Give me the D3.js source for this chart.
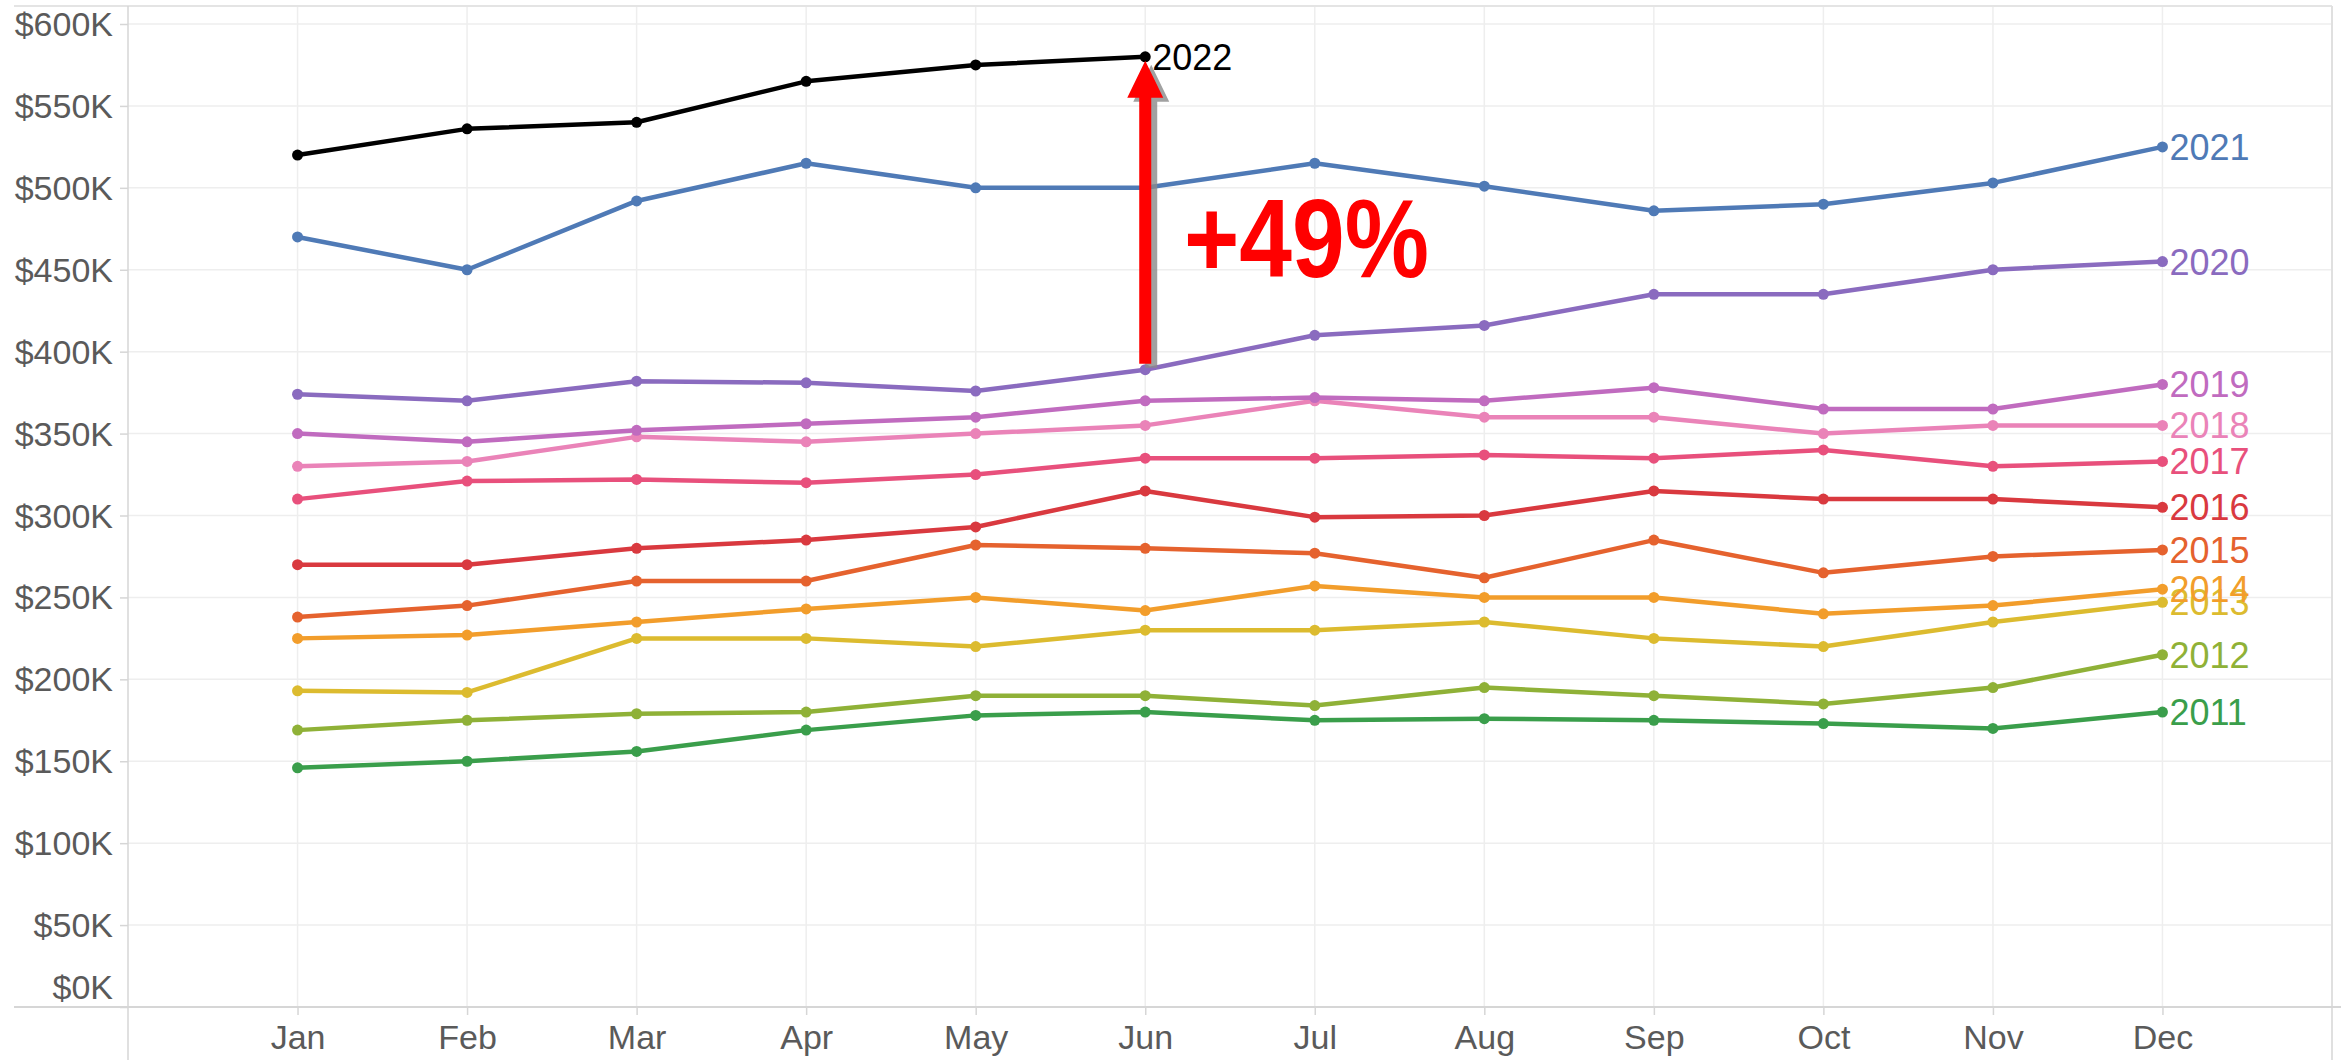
<!DOCTYPE html>
<html>
<head>
<meta charset="utf-8">
<script src="https://cdn.jsdelivr.net/npm/d3@7"></script>
<style>
  html, body { margin: 0; padding: 0; background: #fff; }
  svg { display: block; font-family: "Liberation Sans", Arial, sans-serif; }
</style>
</head>
<body>
<svg id="chart" width="2341" height="1060"></svg>
<script>
// Median price by month, one line per year (values in $)
const months = ["Jan", "Feb", "Mar", "Apr", "May", "Jun", "Jul", "Aug", "Sep", "Oct", "Nov", "Dec"];
const years = ["2011", "2012", "2013", "2014", "2015", "2016", "2017", "2018", "2019", "2020", "2021", "2022"];
const yTicks = [0, 50000, 100000, 150000, 200000, 250000, 300000, 350000, 400000, 450000, 500000, 550000, 600000];

const v2011 = [146000, 150000, 156000, 169000, 178000, 180000, 175000, 176000, 175000, 173000, 170000, 180000];
const v2012 = [169000, 175000, 179000, 180000, 190000, 190000, 184000, 195000, 190000, 185000, 195000, 215000];
const v2013 = [193000, 192000, 225000, 225000, 220000, 230000, 230000, 235000, 225000, 220000, 235000, 247000];
const v2014 = [225000, 227000, 235000, 243000, 250000, 242000, 257000, 250000, 250000, 240000, 245000, 255000];
const v2015 = [238000, 245000, 260000, 260000, 282000, 280000, 277000, 262000, 285000, 265000, 275000, 279000];
const v2016 = [270000, 270000, 280000, 285000, 293000, 315000, 299000, 300000, 315000, 310000, 310000, 305000];
const v2017 = [310000, 321000, 322000, 320000, 325000, 335000, 335000, 337000, 335000, 340000, 330000, 333000];
const v2018 = [330000, 333000, 348000, 345000, 350000, 355000, 370000, 360000, 360000, 350000, 355000, 355000];
const v2019 = [350000, 345000, 352000, 356000, 360000, 370000, 372000, 370000, 378000, 365000, 365000, 380000];
const v2020 = [374000, 370000, 382000, 381000, 376000, 389000, 410000, 416000, 435000, 435000, 450000, 455000];
const v2021 = [470000, 450000, 492000, 515000, 500000, 500000, 515000, 501000, 486000, 490000, 503000, 525000];
const v2022 = [520000, 536000, 540000, 565000, 575000, 580000];

const seriesValues = [v2011, v2012, v2013, v2014, v2015, v2016, v2017, v2018, v2019, v2020, v2021, v2022];
const seriesColors = ["#3a9e4b", "#8fb137", "#dcbb2f", "#f29d2b", "#e5622e", "#d9393f",
                      "#e8507c", "#ea83b8", "#c06bbf", "#8a6bbf", "#4f7ab6", "#000000"];

const annotationText = "+49%";

const W = 2341, H = 1060;
const plot = { left: 128, right: 2332, top: 6, bottom: 1007 };

const svg = d3.select("#chart");
const x = d3.scalePoint(months, [plot.left, plot.right]).padding(1);
const y = d3.scaleLinear([0, 600000], [plot.bottom, 24]);

const gridColor = "#eeeeee";
const frameColor = "#d6d6d6";
const labelColor = "#5a5a5a";

// Horizontal gridlines
svg.append("g").selectAll("line").data(yTicks.slice(1)).join("line")
  .attr("x1", plot.left).attr("x2", plot.right)
  .attr("y1", d => y(d)).attr("y2", d => y(d))
  .attr("stroke", gridColor).attr("stroke-width", 1.5);

// Vertical gridlines
svg.append("g").selectAll("line").data(months).join("line")
  .attr("x1", d => x(d)).attr("x2", d => x(d))
  .attr("y1", plot.top).attr("y2", plot.bottom)
  .attr("stroke", gridColor).attr("stroke-width", 1.5);

// Frame
svg.append("line").attr("x1", 14).attr("x2", plot.right).attr("y1", plot.top).attr("y2", plot.top)
  .attr("stroke", "#e4e4e4").attr("stroke-width", 2);
svg.append("line").attr("x1", plot.left).attr("x2", plot.left).attr("y1", plot.top).attr("y2", H)
  .attr("stroke", frameColor).attr("stroke-width", 1.5);
svg.append("line").attr("x1", plot.right).attr("x2", plot.right).attr("y1", plot.top).attr("y2", H)
  .attr("stroke", "#e0e0e0").attr("stroke-width", 2);
svg.append("line").attr("x1", 14).attr("x2", W).attr("y1", plot.bottom).attr("y2", plot.bottom)
  .attr("stroke", frameColor).attr("stroke-width", 2);

// Y axis
const yAxis = svg.append("g").attr("transform", `translate(${plot.left},0)`)
  .call(d3.axisLeft(y).tickValues(yTicks).tickSize(8).tickPadding(7)
    .tickFormat(d => `$${d / 1000}K`));
yAxis.select(".domain").remove();
yAxis.selectAll(".tick line").attr("stroke", frameColor).attr("stroke-width", 1.5);
yAxis.selectAll(".tick text")
  .attr("font-size", 34).attr("fill", labelColor)
  .attr("font-family", "Liberation Sans, Arial, sans-serif")
  .attr("dy", d => d === 0 ? "-0.25em" : "0.34em");

// X axis
const xAxis = svg.append("g").attr("transform", `translate(0,${plot.bottom})`)
  .call(d3.axisBottom(x).tickSize(8).tickPadding(10));
xAxis.select(".domain").remove();
xAxis.selectAll(".tick line").attr("stroke", frameColor).attr("stroke-width", 1.5);
xAxis.selectAll(".tick text")
  .attr("font-size", 34).attr("fill", labelColor)
  .attr("font-family", "Liberation Sans, Arial, sans-serif")
  .attr("dy", "0.7em");

// Lines, dots and end labels
const line = d3.line().x((d, i) => x(months[i])).y(d => y(d));
const series = svg.append("g");
seriesValues.forEach((vals, k) => {
  const c = seriesColors[k];
  series.append("path").datum(vals)
    .attr("d", line).attr("fill", "none")
    .attr("stroke", c).attr("stroke-width", 4.5).attr("stroke-linejoin", "round");
  series.append("g").selectAll("circle").data(vals).join("circle")
    .attr("cx", (d, i) => x(months[i])).attr("cy", d => y(d))
    .attr("r", 5.5).attr("fill", c);
  const last = vals.length - 1;
  series.append("text")
    .attr("x", x(months[last]) + 7).attr("y", y(vals[last]))
    .attr("dy", "0.36em").attr("font-size", 36).attr("fill", c)
    .text(years[k]);
});

// Arrow: 2020 -> 2022 in June
const jun = months.indexOf("Jun");
const ax = x("Jun");
const yFrom = y(v2020[jun]) - 6;
const yTo = y(v2022[jun]) + 4;
const shaft = 6, headHalf = 18, headLen = 37;
const arrowPath = `M${ax - shaft},${yFrom} L${ax - shaft},${yTo + headLen} L${ax - headHalf},${yTo + headLen}
  L${ax},${yTo} L${ax + headHalf},${yTo + headLen} L${ax + shaft},${yTo + headLen} L${ax + shaft},${yFrom} Z`;
svg.append("path").attr("d", arrowPath).attr("fill", "#8a8a8a").attr("opacity", 0.8)
  .attr("transform", "translate(6,4)");
svg.append("path").attr("d", arrowPath).attr("fill", "#ff0000");

// +49% annotation
svg.append("text")
  .attr("x", 1184).attr("y", 277)
  .attr("font-size", 112).attr("font-weight", 700).attr("fill", "#ff0000")
  .attr("textLength", 245).attr("lengthAdjust", "spacingAndGlyphs")
  .text(annotationText);
</script>
</body>
</html>
